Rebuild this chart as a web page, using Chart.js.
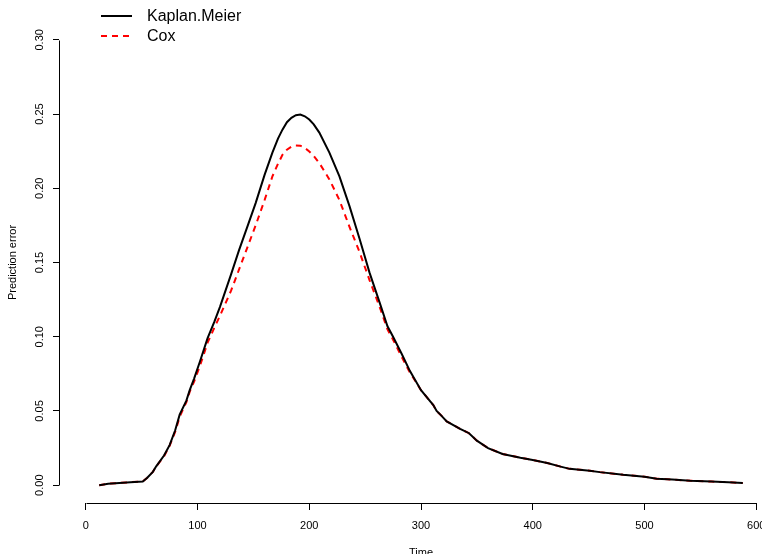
<!DOCTYPE html>
<html>
<head>
<meta charset="utf-8">
<script src="https://cdn.jsdelivr.net/npm/chart.js@4.4.1/dist/chart.umd.min.js"></script>
<style>
    html, body { margin: 0; padding: 0; background: #fff; overflow: hidden; }
    #wrap { position: relative; width: 800px; height: 554px; }
</style>
</head>
<body>
<div id="wrap"><canvas id="chart"></canvas></div>
<script>
/* =========================
   DATA
========================= */

const times = [12, 20, 30, 40, 51, 55, 60, 63, 70, 75, 80, 84, 90, 93, 97, 102, 109, 115, 120, 130,
    137, 145, 152, 160, 167, 172, 176, 180, 184, 188, 192, 196, 200, 204, 209, 218, 227, 236, 245, 254,
    263, 270, 275, 283, 290, 300, 311, 314, 318, 323, 335, 343, 350, 360, 373, 389, 400, 413, 425, 433,
    451, 460, 481, 500, 511, 525, 541, 560, 575, 588];

const kaplanMeier = [0.000, 0.001, 0.0015, 0.002, 0.0025, 0.005, 0.009, 0.0127, 0.020, 0.027, 0.037, 0.0475, 0.057, 0.064, 0.072, 0.083, 0.099, 0.110, 0.120, 0.142,
    0.158, 0.175, 0.190, 0.209, 0.224, 0.2335, 0.2395, 0.2445, 0.2475, 0.2492, 0.2497, 0.2485, 0.2463, 0.243, 0.2375, 0.224, 0.208, 0.188, 0.166, 0.143,
    0.123, 0.107, 0.100, 0.088, 0.077, 0.064, 0.054, 0.050, 0.047, 0.043, 0.038, 0.035, 0.030, 0.025, 0.021, 0.0185, 0.017, 0.015, 0.0125, 0.011,
    0.0098, 0.0088, 0.007, 0.0057, 0.0044, 0.0038, 0.003, 0.0024, 0.002, 0.0015];

const cox = [0.000, 0.001, 0.0015, 0.002, 0.0025, 0.005, 0.009, 0.0125, 0.0195, 0.0265, 0.036, 0.046, 0.056, 0.063, 0.070, 0.080, 0.096, 0.106, 0.114, 0.131,
    0.145, 0.161, 0.175, 0.192, 0.208, 0.2165, 0.2225, 0.226, 0.228, 0.2288, 0.2287, 0.2272, 0.2248, 0.2218, 0.217, 0.206, 0.192, 0.174, 0.157, 0.138,
    0.120, 0.105, 0.098, 0.086, 0.076, 0.064, 0.054, 0.050, 0.047, 0.043, 0.038, 0.035, 0.030, 0.025, 0.021, 0.0185, 0.017, 0.015, 0.0125, 0.011,
    0.0098, 0.0088, 0.007, 0.0057, 0.0044, 0.0038, 0.003, 0.0024, 0.002, 0.0015];

const seriesNames = ["Kaplan.Meier", "Cox"];
const xTicks = [0, 100, 200, 300, 400, 500, 600];
const yTicks = [0, 0.05, 0.10, 0.15, 0.20, 0.25, 0.30];

const FONT = "'Liberation Sans', Arial, Helvetica, sans-serif";

/* =========================
   PLUGINS
========================= */

// R style axis lines: only from first to last tick
const rAxes = {
    id: "rAxes",
    afterDraw(chart) {
        const { ctx, chartArea } = chart;
        const x = chart.scales.x;
        const y = chart.scales.y;
        ctx.save();
        ctx.strokeStyle = "#000";
        ctx.lineWidth = 1;
        ctx.beginPath();
        const yb = Math.round(chartArea.bottom) + 0.5;
        ctx.moveTo(Math.round(x.getPixelForValue(xTicks[0])) + 0.5, yb);
        ctx.lineTo(Math.round(x.getPixelForValue(xTicks[xTicks.length - 1])) + 0.5, yb);
        const xl = Math.round(chartArea.left) + 0.5;
        ctx.moveTo(xl, Math.round(y.getPixelForValue(yTicks[0])) + 0.5);
        ctx.lineTo(xl, Math.round(y.getPixelForValue(yTicks[yTicks.length - 1])) + 0.5);
        ctx.stroke();
        ctx.restore();
    }
};

// legend drawn inside the plot, top left
const insideLegend = {
    id: "insideLegend",
    afterDraw(chart) {
        const ctx = chart.ctx;
        ctx.save();
        ctx.font = "16px " + FONT;
        ctx.textBaseline = "middle";
        ctx.fillStyle = "#000";
        chart.data.datasets.forEach((ds, i) => {
            const yy = 16 + i * 20;
            ctx.strokeStyle = ds.borderColor;
            ctx.lineWidth = ds.borderWidth;
            ctx.setLineDash(ds.borderDash || []);
            ctx.beginPath();
            ctx.moveTo(101, yy);
            ctx.lineTo(132, yy);
            ctx.stroke();
            ctx.setLineDash([]);
            ctx.fillText(ds.label, 147, yy + 1);
        });
        ctx.restore();
    }
};

/* =========================
   CHART
========================= */

new Chart(document.getElementById("chart"), {
    type: "line",
    data: {
        datasets: [{
            label: seriesNames[0],
            data: times.map((t, i) => ({ x: t, y: kaplanMeier[i] })),
            borderColor: "#000",
            borderWidth: 2,
            pointRadius: 0,
            tension: 0
        }, {
            label: seriesNames[1],
            data: times.map((t, i) => ({ x: t, y: cox[i] })),
            borderColor: "#ff0000",
            borderWidth: 2,
            borderDash: [6, 5],
            pointRadius: 0,
            tension: 0
        }]
    },
    options: {
        responsive: true,
        maintainAspectRatio: false,
        animation: false,
        layout: { padding: { left: 0, top: 22, right: 17, bottom: 0 } },
        plugins: {
            legend: { display: false },
            tooltip: { enabled: false }
        },
        scales: {
            x: {
                type: "linear",
                min: -24,
                max: 624,
                afterFit: s => { s.height = 51; },
                afterBuildTicks: s => { s.ticks = xTicks.map(v => ({ value: v })); },
                grid: { drawOnChartArea: false, drawTicks: true, tickLength: 7, color: "#000" },
                border: { display: false },
                ticks: {
                    autoSkip: false,
                    maxRotation: 0,
                    padding: 9,
                    color: "#000",
                    font: { family: FONT, size: 11 },
                    callback: v => String(v)
                },
                title: {
                    display: true,
                    text: "Time",
                    color: "#000",
                    font: { family: FONT, size: 11 },
                    padding: { top: 0, bottom: -6 }
                }
            },
            y: {
                min: -0.012,
                max: 0.312,
                afterFit: s => { s.width = 59; },
                afterBuildTicks: s => { s.ticks = yTicks.map(v => ({ value: v })); },
                grid: { drawOnChartArea: false, drawTicks: true, tickLength: 6, color: "#000" },
                border: { display: false },
                ticks: {
                    autoSkip: false,
                    minRotation: 90,
                    maxRotation: 90,
                    crossAlign: "center",
                    padding: 2,
                    color: "#000",
                    font: { family: FONT, size: 11 },
                    callback: v => v.toFixed(2)
                },
                title: {
                    display: true,
                    text: "Prediction error",
                    color: "#000",
                    font: { family: FONT, size: 11 },
                    padding: { top: 6, bottom: 0 }
                }
            }
        }
    },
    plugins: [rAxes, insideLegend]
});
</script>
</body>
</html>
